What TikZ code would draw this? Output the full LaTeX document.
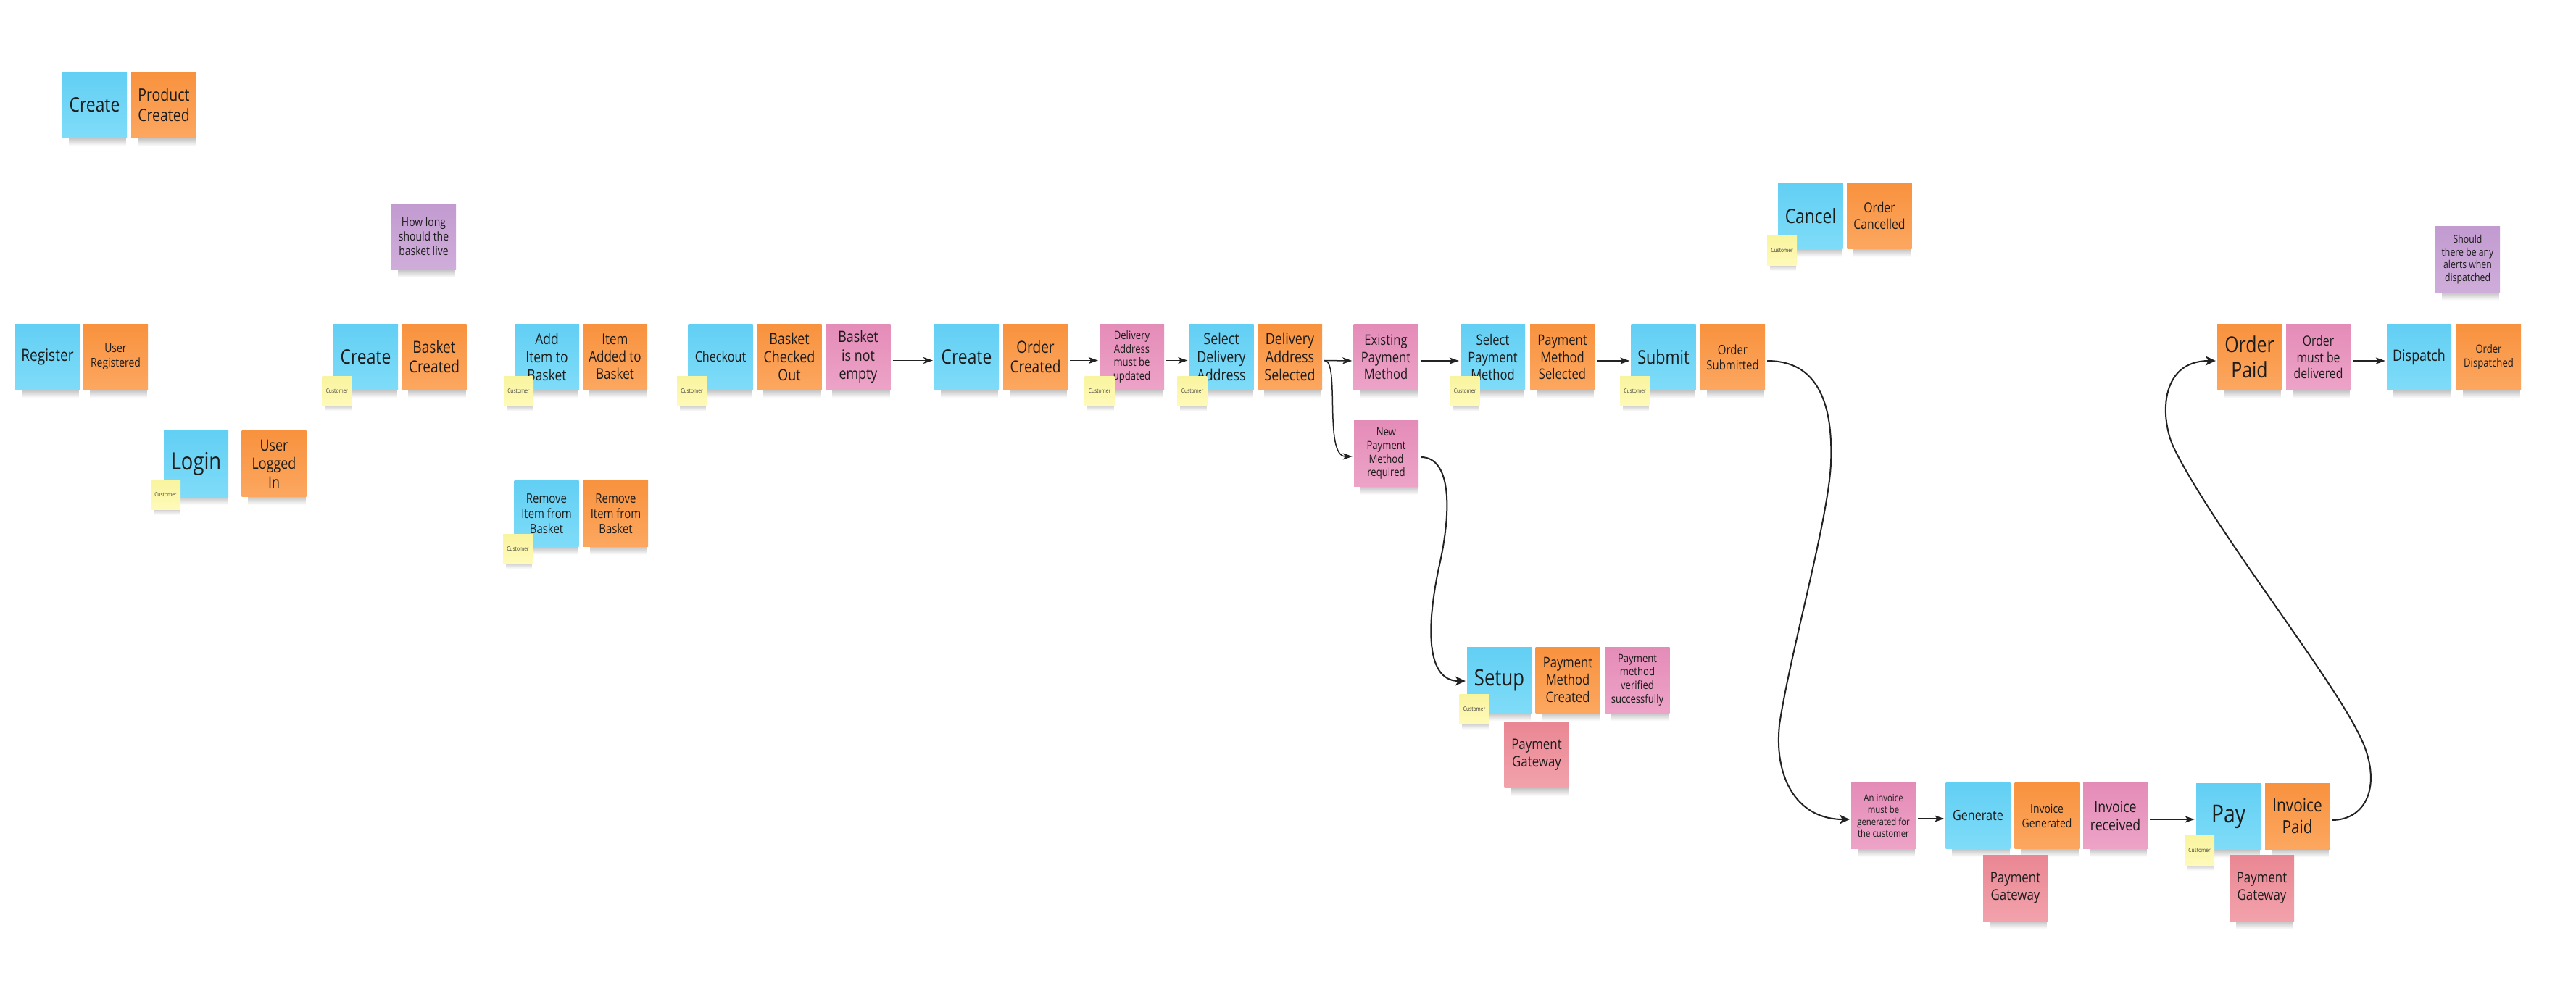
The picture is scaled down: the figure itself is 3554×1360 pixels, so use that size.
\documentclass[tikz,border=0pt]{standalone}
\usepackage{fontspec}
\setmainfont{Open Sans}
\newfontfamily\notefont[FakeStretch=0.83]{Open Sans}
\usetikzlibrary{arrows.meta,fadings,backgrounds}
\definecolor{ink}{HTML}{1C1C1C}
\definecolor{linec}{HTML}{222222}
\definecolor{bluetop}{HTML}{62CFF4}
\definecolor{bluebot}{HTML}{7FDCF8}
\definecolor{orangetop}{HTML}{F8923E}
\definecolor{orangebot}{HTML}{FCA760}
\definecolor{pinktop}{HTML}{E48CB8}
\definecolor{pinkbot}{HTML}{EDA3C7}
\definecolor{purpletop}{HTML}{C29BD0}
\definecolor{purplebot}{HTML}{CFADDA}
\definecolor{redtop}{HTML}{E98793}
\definecolor{redbot}{HTML}{F2A2AC}
\definecolor{yellowtop}{HTML}{F9F49E}
\definecolor{yellowbot}{HTML}{FFFAB9}
\newcommand\fsz[1]{\fontsize{#1pt}{\dimexpr #1pt*118/100\relax}\selectfont}
\tikzfading[name=shadowfade, top color=transparent!0, bottom color=transparent!100]
\tikzset{
  note/.style={minimum width=89pt, minimum height=91pt, inner sep=0pt, align=center,
    text=ink, font=\notefont\fsz{#1}},
  cmd/.style={note=#1, top color=bluetop, bottom color=bluebot},
  evt/.style={note=#1, top color=orangetop, bottom color=orangebot},
  pol/.style={note=#1, top color=pinktop, bottom color=pinkbot},
  qst/.style={note=#1, top color=purpletop, bottom color=purplebot},
  ext/.style={note=#1, top color=redtop, bottom color=redbot},
  cust/.style={minimum width=41pt, minimum height=41pt, inner sep=0pt, align=center,
    text=ink!85, font=\notefont\fsz{8}, top color=yellowtop, bottom color=yellowbot},
  flow/.style={draw=linec, line width=1.5pt, shorten <=3pt, shorten >=2pt,
    -{Stealth[length=13pt,width=9pt,inset=3pt]}},
  bigflow/.style={draw=linec, line width=2pt, shorten <=3pt, shorten >=2pt,
    -{Stealth[length=14pt,width=13pt,inset=4pt]}}
}
\begin{document}
\begin{tikzpicture}[x=1pt, y=-1pt]
\useasboundingbox (0,0) rectangle (3554,1360);

% ---- top-left product
\node[cmd=27.5] (cCreateProd) at (130.5,144.5) {Create};
\node[evt=23.5] (eProdCreated) at (226,145) {Product\\Created};

% ---- register / login
\node[cmd=23] (cRegister) at (65.5,492.5) {Register};
\node[evt=16.8] (eUserReg) at (159.5,492.5) {User\\Registered};
\node[cmd=33] (cLogin) at (270.5,640) {Login};
\node[cust] (cu2) at (228.5,683) {Customer};
\node[evt=21.5] (eLoggedIn) at (378,640) {User\\Logged\\In};

% ---- basket
\node[qst=16.8] (qBasket) at (584.5,326.5) {How long\\should the\\basket live};
\node[cmd=27.5] (cCreateBasket) at (504.5,492.5) {Create};
\node[cust] (cu1) at (465,539.5) {Customer};
\node[evt=23] (eBasketCreated) at (599,492.5) {Basket\\Created};

\node[cmd=21] (cAddItem) at (754.5,492.5) {Add\\Item to\\Basket};
\node[cust] (cu3) at (715.5,540) {Customer};
\node[evt=20.5] (eItemAdded) at (848.5,492.5) {Item\\Added to\\Basket};

\node[cmd=18] (cRemove) at (754,709) {Remove\\Item from\\Basket};
\node[cust] (cu4) at (714.5,757.5) {Customer};
\node[evt=18] (eRemoved) at (849.5,709) {Remove\\Item from\\Basket};

\node[cmd=19.5] (cCheckout) at (994,492.5) {Checkout};
\node[cust] (cu5) at (954.5,540) {Customer};
\node[evt=21.5] (eCheckedOut) at (1089,492.5) {Basket\\Checked\\Out};
\node[pol=21.5] (pNotEmpty) at (1184,492.5) {Basket\\is not\\empty};

% ---- order
\node[cmd=27.5] (cCreateOrder) at (1333.5,492.5) {Create};
\node[evt=23] (eOrderCreated) at (1428.5,492.5) {Order\\Created};
\node[pol=15.8] (pDelivery) at (1561.5,492.5) {Delivery\\Address\\must be\\updated};
\node[cust] (cu6) at (1517,539.5) {Customer};
\node[cmd=21.5] (cSelDelivery) at (1685,492.5) {Select\\Delivery\\Address};
\node[cust] (cu7) at (1645,540) {Customer};
\node[evt=21.5] (eDelivSelected) at (1779.5,492.5) {Delivery\\Address\\Selected};
\node[pol=20] (pExisting) at (1912,493) {Existing\\Payment\\Method};
\node[pol=15.8] (pNew) at (1912.5,626) {New\\Payment\\Method\\required};
\node[cmd=20] (cSelPayment) at (2059.5,493) {Select\\Payment\\Method};
\node[cust] (cu8) at (2021,540) {Customer};
\node[evt=20] (ePaySelected) at (2155.5,493) {Payment\\Method\\Selected};
\node[cmd=26] (cSubmit) at (2295,493) {Submit};
\node[cust] (cu9) at (2255.5,540) {Customer};
\node[evt=18] (eSubmitted) at (2390.5,493) {Order\\Submitted};

% ---- cancel
\node[cmd=27.5] (cCancel) at (2498,298) {Cancel};
\node[cust] (cu10) at (2458.5,346) {Customer};
\node[evt=19] (eCancelled) at (2593,298) {Order\\Cancelled};

% ---- payment setup
\node[cmd=31] (cSetup) at (2068.5,938.5) {Setup};
\node[cust] (cu11) at (2034,979) {Customer};
\node[evt=20] (ePMCreated) at (2163,938.5) {Payment\\Method\\Created};
\node[pol=15.8] (pVerified) at (2259,938.5) {Payment\\method\\verified\\successfully};
\node[ext=20.3] (gw1) at (2120,1042) {Payment\\Gateway};

% ---- invoice
\node[pol=13.7] (pInvoice) at (2598.5,1126) {An invoice\\must be\\generated for\\the customer};
\node[cmd=19.5] (cGenerate) at (2729,1126) {Generate};
\node[evt=16.8] (eInvGenerated) at (2824,1126) {Invoice\\Generated};
\node[pol=21.3] (pInvReceived) at (2918.5,1126) {Invoice\\received};
\node[ext=20.3] (gw2) at (2780.5,1225.5) {Payment\\Gateway};
\node[cmd=34] (cPay) at (3074.5,1127) {Pay};
\node[cust] (cu12) at (3034.5,1174) {Customer};
\node[evt=25] (eInvPaid) at (3169.5,1126.5) {Invoice\\Paid};
\node[ext=20.3] (gw3) at (3120.5,1226) {Payment\\Gateway};

% ---- dispatch
\node[evt=30] (eOrderPaid) at (3103.5,493) {Order\\Paid};
\node[pol=19] (pDelivered) at (3198.5,493) {Order\\must be\\delivered};
\node[cmd=21.5] (cDispatch) at (3337.5,493) {Dispatch};
\node[evt=15.8] (eDispatched) at (3433.5,493) {Order\\Dispatched};
\node[qst=14.8] (qAlerts) at (3404.5,358) {Should\\there be any\\alerts when\\dispatched};

% ---- shadows and background
\begin{pgfonlayer}{background}
  \fill[white] (0,0) rectangle (3554,1360);
  \foreach \n in {cCreateProd,eProdCreated,cRegister,eUserReg,cLogin,eLoggedIn,qBasket,
    cCreateBasket,eBasketCreated,cAddItem,eItemAdded,cRemove,eRemoved,cCheckout,eCheckedOut,
    pNotEmpty,cCreateOrder,eOrderCreated,pDelivery,cSelDelivery,eDelivSelected,pExisting,pNew,
    cSelPayment,ePaySelected,cSubmit,eSubmitted,cCancel,eCancelled,cSetup,ePMCreated,pVerified,
    gw1,pInvoice,cGenerate,eInvGenerated,pInvReceived,gw2,cPay,eInvPaid,gw3,eOrderPaid,
    pDelivered,cDispatch,eDispatched,qAlerts}
  { \fill[black, fill opacity=0.26, path fading=shadowfade]
      ([xshift=9pt,yshift=1pt]\n.south west) rectangle ([xshift=-1pt,yshift=-11pt]\n.south east); }
  \foreach \n in {cu1,cu2,cu3,cu4,cu5,cu6,cu7,cu8,cu9,cu10,cu11,cu12}
  { \fill[black, fill opacity=0.2, path fading=shadowfade]
      ([xshift=4pt,yshift=1pt]\n.south west) rectangle ([xshift=-1pt,yshift=-7pt]\n.south east); }
\end{pgfonlayer}

% ---- straight connectors
\draw[flow] ([yshift=-5pt]pNotEmpty.east) -- ([yshift=-5pt]cCreateOrder.west);
\draw[flow] ([yshift=-5pt]eOrderCreated.east) -- ([yshift=-5pt]pDelivery.west);
\draw[flow] ([yshift=-5pt]pDelivery.east) -- ([yshift=-5pt]cSelDelivery.west);
\draw[flow] ([yshift=-5pt]eDelivSelected.east) -- ([yshift=-5pt]pExisting.west);
\draw[flow] ([yshift=-5pt]pExisting.east) -- ([yshift=-5pt]cSelPayment.west);
\draw[flow] ([yshift=-5pt]ePaySelected.east) -- ([yshift=-5pt]cSubmit.west);
\draw[flow] ([yshift=-4pt]pInvoice.east) -- ([yshift=-4pt]cGenerate.west);
\draw[flow] ([yshift=-5pt]pInvReceived.east) -- ([yshift=-4pt]cPay.west);
\draw[flow] ([yshift=-5pt]pDelivered.east) -- ([yshift=-5pt]cDispatch.west);

% ---- curved connectors
\draw[flow] ([yshift=-5pt]eDelivSelected.east) .. controls +(25,0) and +(-42,0) .. ([yshift=-4pt]pNew.west);
\draw[bigflow] ([yshift=-5pt]pNew.east) .. controls +(44,0) and (2003,700) .. (1987,775)
  .. controls (1970,850) and +(-61,0) .. ([yshift=-1.5pt]cSetup.west);
\draw[bigflow] ([yshift=-5pt]eSubmitted.east) .. controls +(62,0) and (2530,540) .. (2526,640)
  .. controls (2522,720) and (2470,900) .. (2455,1000)
  .. controls (2447,1080) and +(-70,0) .. ([yshift=-5pt]pInvoice.west);
\draw[bigflow] ([yshift=-5.5pt]eInvPaid.east) .. controls +(47,0) and (3285,1090) .. (3262,1030)
  .. controls (3232,952) and (3060,740) .. (3000,620)
  .. controls (2980,580) and +(-81,0) .. ([yshift=-5pt]eOrderPaid.west);
\end{tikzpicture}
\end{document}
